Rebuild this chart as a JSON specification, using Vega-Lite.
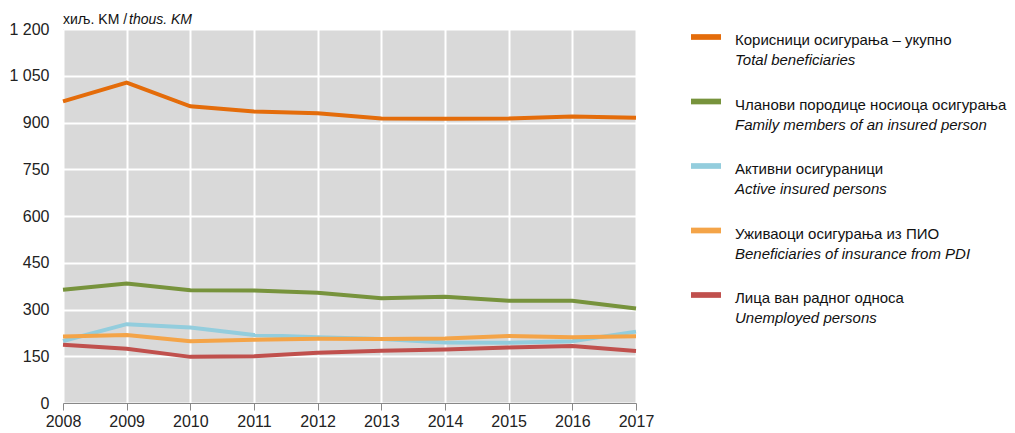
{
  "$schema": "https://vega.github.io/schema/vega-lite/v6.json",
  "padding": {"left": 8, "top": 13, "right": 2, "bottom": 5},
  "config": {"view": {"stroke": null}, "font": "Liberation Sans", "concat": {"spacing": 37}},
  "datasets": {
    "series": [
      {"year": 2008, "series": "Корисници осигурања – укупно", "value": 968},
      {"year": 2009, "series": "Корисници осигурања – укупно", "value": 1028},
      {"year": 2010, "series": "Корисници осигурања – укупно", "value": 952},
      {"year": 2011, "series": "Корисници осигурања – укупно", "value": 935},
      {"year": 2012, "series": "Корисници осигурања – укупно", "value": 930},
      {"year": 2013, "series": "Корисници осигурања – укупно", "value": 913},
      {"year": 2014, "series": "Корисници осигурања – укупно", "value": 912},
      {"year": 2015, "series": "Корисници осигурања – укупно", "value": 913},
      {"year": 2016, "series": "Корисници осигурања – укупно", "value": 919},
      {"year": 2017, "series": "Корисници осигурања – укупно", "value": 915},
      {"year": 2008, "series": "Чланови породице носиоца осигурања", "value": 363},
      {"year": 2009, "series": "Чланови породице носиоца осигурања", "value": 383},
      {"year": 2010, "series": "Чланови породице носиоца осигурања", "value": 362},
      {"year": 2011, "series": "Чланови породице носиоца осигурања", "value": 361},
      {"year": 2012, "series": "Чланови породице носиоца осигурања", "value": 354},
      {"year": 2013, "series": "Чланови породице носиоца осигурања", "value": 336},
      {"year": 2014, "series": "Чланови породице носиоца осигурања", "value": 341},
      {"year": 2015, "series": "Чланови породице носиоца осигурања", "value": 328},
      {"year": 2016, "series": "Чланови породице носиоца осигурања", "value": 328},
      {"year": 2017, "series": "Чланови породице носиоца осигурања", "value": 303},
      {"year": 2008, "series": "Активни осигураници", "value": 199},
      {"year": 2009, "series": "Активни осигураници", "value": 253},
      {"year": 2010, "series": "Активни осигураници", "value": 242},
      {"year": 2011, "series": "Активни осигураници", "value": 218},
      {"year": 2012, "series": "Активни осигураници", "value": 211},
      {"year": 2013, "series": "Активни осигураници", "value": 205},
      {"year": 2014, "series": "Активни осигураници", "value": 194},
      {"year": 2015, "series": "Активни осигураници", "value": 193},
      {"year": 2016, "series": "Активни осигураници", "value": 198},
      {"year": 2017, "series": "Активни осигураници", "value": 229},
      {"year": 2008, "series": "Уживаоци осигурања из ПИО", "value": 213},
      {"year": 2009, "series": "Уживаоци осигурања из ПИО", "value": 218},
      {"year": 2010, "series": "Уживаоци осигурања из ПИО", "value": 198},
      {"year": 2011, "series": "Уживаоци осигурања из ПИО", "value": 203},
      {"year": 2012, "series": "Уживаоци осигурања из ПИО", "value": 206},
      {"year": 2013, "series": "Уживаоци осигурања из ПИО", "value": 205},
      {"year": 2014, "series": "Уживаоци осигурања из ПИО", "value": 207},
      {"year": 2015, "series": "Уживаоци осигурања из ПИО", "value": 215},
      {"year": 2016, "series": "Уживаоци осигурања из ПИО", "value": 211},
      {"year": 2017, "series": "Уживаоци осигурања из ПИО", "value": 214},
      {"year": 2008, "series": "Лица ван радног односа", "value": 187},
      {"year": 2009, "series": "Лица ван радног односа", "value": 174},
      {"year": 2010, "series": "Лица ван радног односа", "value": 148},
      {"year": 2011, "series": "Лица ван радног односа", "value": 150},
      {"year": 2012, "series": "Лица ван радног односа", "value": 161},
      {"year": 2013, "series": "Лица ван радног односа", "value": 168},
      {"year": 2014, "series": "Лица ван радног односа", "value": 172},
      {"year": 2015, "series": "Лица ван радног односа", "value": 178},
      {"year": 2016, "series": "Лица ван радног односа", "value": 183},
      {"year": 2017, "series": "Лица ван радног односа", "value": 167}
    ],
    "legend": [
      {"series": "Корисници осигурања – укупно", "eng": "Total beneficiaries"},
      {"series": "Чланови породице носиоца осигурања", "eng": "Family members of an insured person"},
      {"series": "Активни осигураници", "eng": "Active insured persons"},
      {"series": "Уживаоци осигурања из ПИО", "eng": "Beneficiaries of insurance from PDI"},
      {"series": "Лица ван радног односа", "eng": "Unemployed persons"}
    ]
  },
  "hconcat": [
    {
      "width": 573,
      "height": 374,
      "view": {"fill": "#D9D9D9", "stroke": null},
      "layer": [
        {
          "data": {"name": "series"},
          "mark": {"type": "line", "strokeWidth": 4},
          "encoding": {
            "x": {
              "field": "year", "type": "quantitative",
              "scale": {"domain": [2008, 2017], "nice": false, "zero": false},
              "axis": {
                "values": [2008, 2009, 2010, 2011, 2012, 2013, 2014, 2015, 2016, 2017],
                "format": "d", "title": null, "grid": true, "gridColor": "#FFFFFF", "gridWidth": 2, "gridOpacity": 1,
                "domainColor": "#888888", "tickColor": "#888888", "tickSize": 7,
                "labelFontSize": 16, "labelColor": "#222222", "labelPadding": 3, "labelFlush": false
              }
            },
            "y": {
              "field": "value", "type": "quantitative",
              "scale": {"domain": [0, 1200], "nice": false},
              "axis": {
                "values": [0, 150, 300, 450, 600, 750, 900, 1050, 1200],
                "title": null, "ticks": false, "domain": false, "grid": true,
                "gridColor": "#FFFFFF", "gridWidth": 2, "gridOpacity": 1,
                "labelExpr": "replace(format(datum.value, ','), ',', ' ')",
                "labelFontSize": 16, "labelColor": "#222222", "labelPadding": 14
              }
            },
            "color": {
              "field": "series", "type": "nominal",
              "scale": {
                "domain": ["Корисници осигурања – укупно", "Чланови породице носиоца осигурања", "Активни осигураници", "Уживаоци осигурања из ПИО", "Лица ван радног односа"],
                "range": ["#E46C0A", "#77933C", "#93CDDD", "#F4A448", "#C0504D"]
              },
              "legend": null
            }
          }
        },
        {
          "data": {"values": [{}]},
          "mark": {"type": "text", "align": "left", "baseline": "alphabetic", "dy": -5, "fontSize": 14, "color": "#111111", "text": "хиљ. KM / "},
          "encoding": {
            "x": {"datum": 2008, "type": "quantitative"},
            "y": {"datum": 1200, "type": "quantitative"}
          }
        },
        {
          "data": {"values": [{}]},
          "mark": {"type": "text", "align": "left", "baseline": "alphabetic", "dy": -5, "dx": 66, "fontSize": 14, "fontStyle": "italic", "color": "#111111", "text": "thous. KM"},
          "encoding": {
            "x": {"datum": 2008, "type": "quantitative"},
            "y": {"datum": 1200, "type": "quantitative"}
          }
        }
      ]
    },
    {
      "width": 290,
      "height": 374,
      "data": {"name": "legend"},
      "encoding": {
        "y": {"field": "series", "type": "nominal", "sort": null, "scale": {"type": "point", "padding": 0, "range": [8, 266]}, "axis": null},
        "x": {"datum": 0, "type": "quantitative", "scale": {"domain": [0, 1]}, "axis": null}
      },
      "layer": [
        {
          "mark": {"type": "point", "shape": "M-1,-0.19L1,-0.19L1,0.19L-1,0.19Z", "size": 900, "filled": true, "opacity": 1, "xOffset": 15},
          "encoding": {
            "color": {
              "field": "series", "type": "nominal",
              "scale": {
                "domain": ["Корисници осигурања – укупно", "Чланови породице носиоца осигурања", "Активни осигураници", "Уживаоци осигурања из ПИО", "Лица ван радног односа"],
                "range": ["#E46C0A", "#77933C", "#93CDDD", "#F4A448", "#C0504D"]
              },
              "legend": null
            }
          }
        },
        {
          "mark": {"type": "text", "align": "left", "baseline": "middle", "dx": 44, "dy": 3, "fontSize": 15, "color": "#111111"},
          "encoding": {"text": {"field": "series"}}
        },
        {
          "mark": {"type": "text", "align": "left", "baseline": "middle", "dx": 44, "dy": 23, "fontSize": 15, "fontStyle": "italic", "color": "#111111"},
          "encoding": {"text": {"field": "eng"}}
        }
      ]
    }
  ]
}
